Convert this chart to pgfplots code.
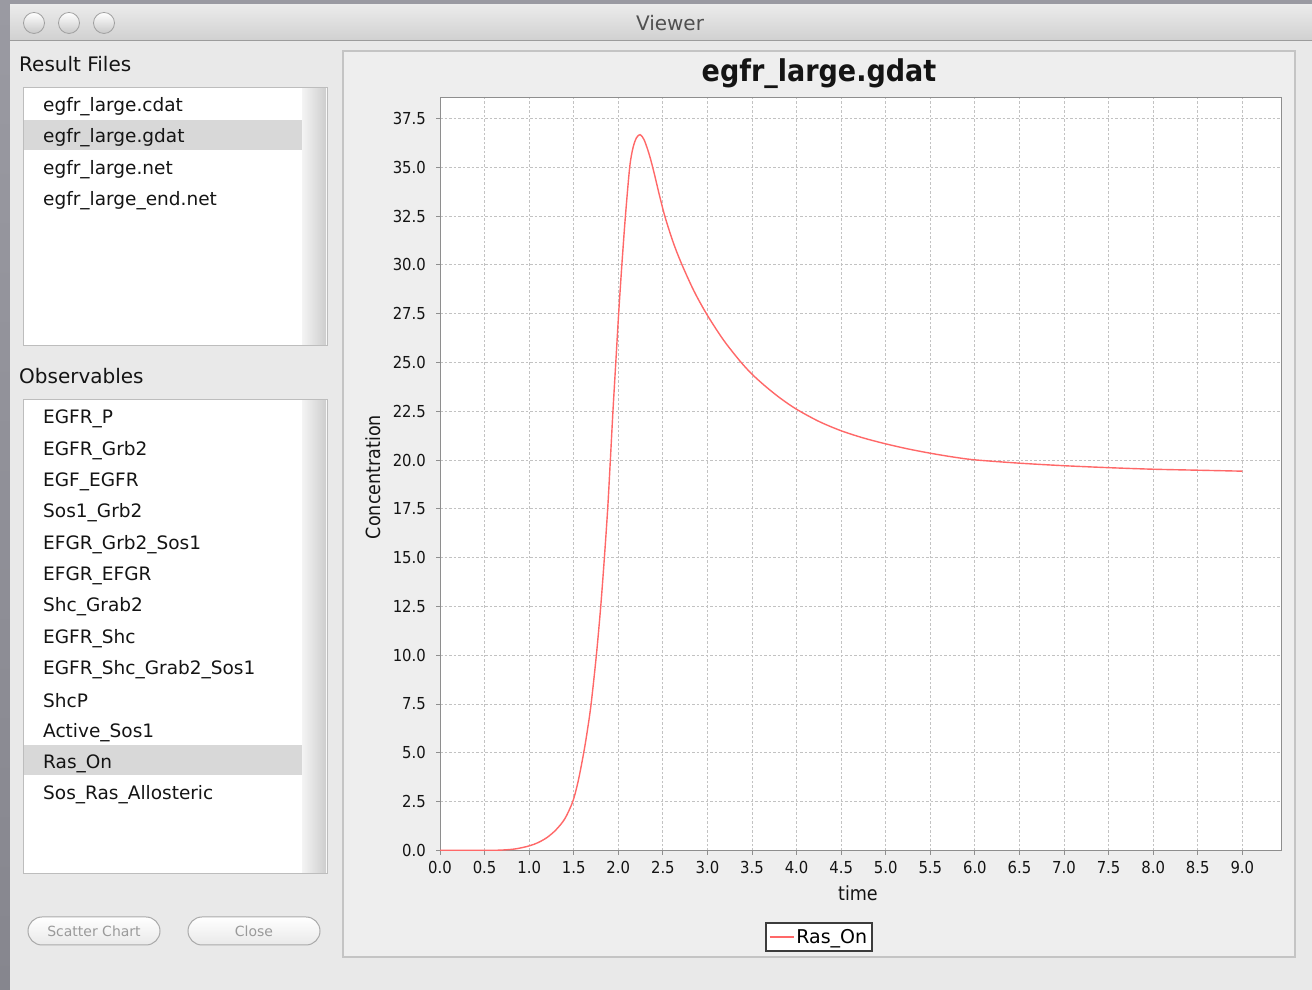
\documentclass[border=0pt]{standalone}
\usepackage{fontspec}
\setmainfont{DejaVu Sans}
\newfontfamily\cond{DejaVu Sans Condensed}
\usepackage{pgfplots}
\pgfplotsset{compat=1.18}
\definecolor{desktop}{HTML}{86868E}
\definecolor{desktoplt}{HTML}{9A9AA2}
\definecolor{winbg}{HTML}{E9E9E9}
\definecolor{panelbg}{HTML}{EEEEEE}
\definecolor{panelline}{HTML}{C4C4C4}
\definecolor{tbtop}{HTML}{EBEBEB}
\definecolor{tbbot}{HTML}{D0D0D0}
\definecolor{tbline}{HTML}{9C9C9C}
\definecolor{listline}{HTML}{BDBDBD}
\definecolor{selrow}{HTML}{D8D8D8}
\definecolor{txt}{HTML}{141414}
\definecolor{btntxt}{HTML}{9A9A9A}
\definecolor{gridc}{HTML}{C2C2C2}
\definecolor{axisc}{HTML}{8E8E8E}
\definecolor{btngray}{HTML}{C8C8C8}
\definecolor{curve}{RGB}{255,104,104}
\newcommand\fs[1]{\fontsize{#1}{#1}\selectfont}
\begin{document}
\begin{tikzpicture}[x=1pt,y=1pt]
\useasboundingbox (0,0) rectangle (1312,990);
% desktop
\shade[top color=desktoplt, bottom color=desktop] (0,0) rectangle (1312,990);
% window body
\fill[winbg] (10,0) rectangle (1312,949);
% title bar
\shade[top color=tbtop, bottom color=tbbot] (10,949) rectangle (1312,985);
\draw[tbline, line width=1pt] (10,949) -- (1312,949);
\foreach \cx in {34,69,104}{
  \shade[top color=white, bottom color=btngray] (\cx,967) circle (10.5);
  \draw[btngray!80!black, line width=0.8pt] (\cx,967) circle (10.5);
}
\node[text=btngray!40!black, font=\fs{20}] at (670,967) {Viewer};
% left panel: result files
\node[anchor=west, text=txt, font=\fs{20}, inner sep=0] at (19,926) {Result Files};
\fill[white] (23,644) rectangle (327,902);
\fill[selrow] (24,840) rectangle (302,870);
\shade[left color=btngray!20, right color=btngray!90] (302,645) rectangle (326,901);
\draw[listline, line width=1pt] (23,644) rectangle (327,902);
\foreach \y/\t in {883/egfr\_large.cdat, 852/egfr\_large.gdat, 820/egfr\_large.net, 789/egfr\_large\_end.net}{
  \node[anchor=west, text=txt, font=\fs{18.5}, inner sep=0] at (43,\y) {\t};
}
% observables
\node[anchor=west, text=txt, font=\fs{20}, inner sep=0] at (19,614) {Observables};
\fill[white] (23,116) rectangle (327,590);
\fill[selrow] (24,215) rectangle (302,245);
\shade[left color=btngray!20, right color=btngray!90] (302,117) rectangle (326,589);
\draw[listline, line width=1pt] (23,116) rectangle (327,590);
\foreach \k/\t in {0/EGFR\_P, 1/EGFR\_Grb2, 2/EGF\_EGFR, 3/Sos1\_Grb2, 4/EFGR\_Grb2\_Sos1, 5/EFGR\_EFGR, 6/Shc\_Grab2, 7/EGFR\_Shc, 8/EGFR\_Shc\_Grab2\_Sos1, 9/ShcP, 10/Active\_Sos1, 11/Ras\_On, 12/Sos\_Ras\_Allosteric}{
  \node[anchor=west, text=txt, font=\fs{18.5}, inner sep=0] at (43,{990-419-31.33*\k}) {\t};
}
% buttons
\shade[top color=white, bottom color=btngray!40, rounded corners=14pt] (28,45) rectangle (160,73);
\draw[btngray!85!black, line width=1pt, rounded corners=14pt] (28,45) rectangle (160,73);
\node[text=btntxt, font=\fs{14}] at (94,59) {Scatter Chart};
\shade[top color=white, bottom color=btngray!40, rounded corners=14pt] (188,45) rectangle (320,73);
\draw[btngray!85!black, line width=1pt, rounded corners=14pt] (188,45) rectangle (320,73);
\node[text=btntxt, font=\fs{14}] at (254,59) {Close};
% chart panel
\fill[panelbg] (343,33) rectangle (1295,939);
\draw[panelline, line width=1.2pt] (343,33) rectangle (1295,939);
\node[text=txt, font=\cond\bfseries\fs{30}] at (819,916) {egfr\_large.gdat};
\begin{axis}[
  at={(440pt,139pt)}, anchor=south west,
  scale only axis, width=841pt, height=753pt,
  xmin=0, xmax=9.434, ymin=-0.03, ymax=38.55,
  xtick={0,0.5,1,1.5,2,2.5,3,3.5,4,4.5,5,5.5,6,6.5,7,7.5,8,8.5,9},
  ytick={0,2.5,5,7.5,10,12.5,15,17.5,20,22.5,25,27.5,30,32.5,35,37.5},
  /pgf/number format/.cd, fixed, fixed zerofill, precision=1, assume math mode=true, /pgfplots/.cd,
  tick pos=left, tick align=outside, major tick length=4pt,
  tick style={draw=axisc, line width=1pt},
  axis line style={draw=axisc, line width=1pt},
  grid=major,
  major grid style={draw=gridc, line width=1pt, dash pattern=on 2.5pt off 2pt},
  axis background/.style={fill=white},
  ticklabel style={font=\cond\fs{16.5}, text=txt, inner sep=0pt},
  xticklabel style={anchor=north, yshift=-6pt},
  yticklabel style={anchor=east, xshift=-10pt},
  xlabel={time}, ylabel={Concentration},
  label style={font=\cond\fs{19.5}, text=txt},
  xlabel style={at={(axis description cs:0.497,-0.0558)}, anchor=center},
  ylabel style={at={(axis description cs:-0.0797,0.4967)}, anchor=center},
  legend style={at={(axis description cs:0.4507,-0.1142)}, anchor=center,
    draw=btngray!30!black, line width=1.5pt, fill=white, font=\fs{19},
    inner xsep=3pt, inner ysep=4pt},
  legend image code/.code={\draw[#1] (0pt,0pt) -- (24pt,0pt);},
  legend cell align=left,
]
\addplot[curve, line width=1.4pt, smooth, tension=0.5] coordinates {
(0.00,0.00) (0.50,0.00) (0.70,0.02) (0.85,0.08) (1.00,0.23) (1.10,0.40)
(1.20,0.66) (1.30,1.05) (1.40,1.62) (1.489,2.5) (1.55,3.55) (1.612,5.0)
(1.655,6.2) (1.695,7.5) (1.754,10.0) (1.803,12.5) (1.844,15.0) (1.881,17.5)
(1.911,20.0) (1.940,22.5) (1.972,25.0) (2.004,27.5) (2.040,30.0) (2.080,32.5)
(2.128,35.0) (2.165,36.0) (2.205,36.52) (2.245,36.67) (2.285,36.45) (2.323,36.0)
(2.36,35.45) (2.405,34.65) (2.465,33.5) (2.528,32.4) (2.62,31.1) (2.715,30.0)
(2.85,28.65) (2.995,27.45) (3.18,26.15) (3.369,25.05) (3.5,24.4) (3.65,23.78)
(3.817,23.17) (4.0,22.6) (4.25,21.98) (4.5,21.5) (4.75,21.13) (5.0,20.83)
(5.25,20.57) (5.5,20.35) (5.75,20.16) (6.0,20.01) (6.5,19.84) (7.0,19.71)
(7.5,19.61) (8.0,19.53) (8.5,19.48) (9.0,19.43)
};
\addlegendentry{Ras\_On}
\end{axis}
\end{tikzpicture}
\end{document}
